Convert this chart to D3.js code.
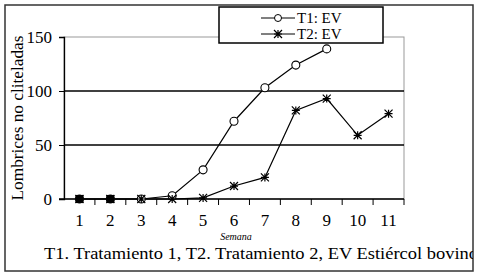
<!DOCTYPE html>
<html>
<head>
<meta charset="utf-8">
<script src="https://cdn.jsdelivr.net/npm/d3@7"></script>
<style>
  body { margin: 0; background: #fff; }
  text { font-family: "Liberation Serif", "DejaVu Serif", serif; fill: #000; }
</style>
</head>
<body>
<div id="chart"></div>
<script>
// chart data
var semanas = ["1", "2", "3", "4", "5", "6", "7", "8", "9", "10", "11"]
var t1 = [0, 0, 0, 3, 27, 72, 103, 124, 139]
var t2 = [0, 0, 0, 0, 1, 12, 20, 82, 93, 59, 79]
var yTicks = [0, 50, 100, 150]
var seriesNames = ["T1: EV", "T2: EV"]

var width = 483,
    height = 277
var margin = {top: 37, right: 79, bottom: 78, left: 64}

var svg = d3.select("#chart")
  .append("svg")
    .attr("width", width)
    .attr("height", height)

svg.append("clipPath").attr("id", "frameClip")
  .append("rect").attr("x", 5).attr("y", 5).attr("width", 468).attr("height", 266)

// outer frame
svg.append("rect")
  .attr("x", 5).attr("y", 5)
  .attr("width", 468).attr("height", 266)
  .attr("fill", "#fff")
  .attr("stroke", "#333")
  .attr("stroke-width", 1.5)

var x = d3.scaleBand()
  .domain(semanas)
  .range([margin.left, width - margin.right])

var y = d3.scaleLinear()
  .domain([0, 150])
  .range([height - margin.bottom, margin.top])

// plot area border (grey)
svg.append("rect")
  .attr("x", margin.left).attr("y", margin.top)
  .attr("width", x.range()[1] - margin.left)
  .attr("height", y(0) - margin.top)
  .attr("fill", "none")
  .attr("stroke", "#999")
  .attr("stroke-width", 1)

// gridlines
svg.selectAll("grid")
  .data(yTicks.filter(function(d) { return d > 0 && d < 150 }))
  .enter()
  .append("line")
    .attr("x1", margin.left).attr("x2", x.range()[1])
    .attr("y1", function(d) { return y(d) }).attr("y2", function(d) { return y(d) })
    .attr("stroke", "#000")
    .attr("stroke-width", 1.3)

// y axis
var yAxis = svg.append("g")
  .attr("transform", "translate(" + margin.left + ",0)")
  .call(d3.axisLeft(y).tickValues(yTicks).tickSize(5).tickPadding(7))
yAxis.select(".domain").attr("stroke", "#000").attr("stroke-width", 1.3)
yAxis.selectAll("text").style("font-size", "17px").style("font-family", "Liberation Serif")

// x axis with ticks between categories
var xAxis = svg.append("g")
  .attr("transform", "translate(0," + y(0) + ")")
xAxis.append("line")
  .attr("x1", margin.left - 5).attr("x2", x.range()[1])
  .attr("stroke", "#000").attr("stroke-width", 1.3)
xAxis.selectAll("tick")
  .data(semanas)
  .enter()
  .append("line")
    .attr("x1", function(d) { return x(d) + x.bandwidth() })
    .attr("x2", function(d) { return x(d) + x.bandwidth() })
    .attr("y1", 0).attr("y2", 6)
    .attr("stroke", "#000")
xAxis.selectAll("lbl")
  .data(semanas)
  .enter()
  .append("text")
    .attr("x", function(d) { return x(d) + x.bandwidth() / 2 })
    .attr("y", 27)
    .attr("text-anchor", "middle")
    .style("font-size", "17px")
    .text(function(d) { return d })

// lines
var line = d3.line()
  .x(function(d, i) { return x(semanas[i]) + x.bandwidth() / 2 })
  .y(function(d) { return y(d) })

svg.append("path")
  .datum(t1)
  .attr("d", line)
  .attr("fill", "none")
  .attr("stroke", "#000")
  .attr("stroke-width", 1.2)

svg.append("path")
  .datum(t2)
  .attr("d", line)
  .attr("fill", "none")
  .attr("stroke", "#000")
  .attr("stroke-width", 1.2)

// star marker
function star(g, cx, cy) {
  var s = 4
  g.append("path")
    .attr("d", "M" + (cx - s) + "," + cy + "H" + (cx + s) +
      "M" + (cx - s) + "," + (cy - s) + "L" + (cx + s) + "," + (cy + s) +
      "M" + (cx - s) + "," + (cy + s) + "L" + (cx + s) + "," + (cy - s) +
      "M" + cx + "," + (cy - s) + "V" + (cy + s))
    .attr("stroke", "#000")
    .attr("stroke-width", 1.2)
}

svg.selectAll("t1pts")
  .data(t1)
  .enter()
  .append("circle")
    .attr("cx", function(d, i) { return x(semanas[i]) + x.bandwidth() / 2 })
    .attr("cy", function(d) { return y(d) })
    .attr("r", 4)
    .attr("fill", "#fff")
    .attr("stroke", "#000")
    .attr("stroke-width", 1.1)

// filled squares on the first two weeks
svg.selectAll("sq")
  .data(t2.slice(0, 2))
  .enter()
  .append("rect")
    .attr("x", function(d, i) { return x(semanas[i]) + x.bandwidth() / 2 - 4 })
    .attr("y", function(d) { return y(d) - 4 })
    .attr("width", 8).attr("height", 8)
    .attr("fill", "#000")

var starG = svg.append("g")
t2.forEach(function(d, i) {
  star(starG, x(semanas[i]) + x.bandwidth() / 2, y(d))
})

// legend
var legend = svg.append("g")
legend.append("rect")
  .attr("x", 219).attr("y", 7)
  .attr("width", 164).attr("height", 36)
  .attr("fill", "#fff")
  .attr("stroke", "#000")
  .attr("stroke-width", 1.5)

seriesNames.forEach(function(name, i) {
  var ly = 18 + i * 16
  legend.append("line")
    .attr("x1", 261).attr("x2", 295)
    .attr("y1", ly).attr("y2", ly)
    .attr("stroke", "#000")
  if (i === 0) {
    legend.append("circle")
      .attr("cx", 278).attr("cy", ly).attr("r", 3.5)
      .attr("fill", "#fff").attr("stroke", "#000")
  } else {
    star(legend, 278, ly)
  }
  legend.append("text")
    .attr("x", 297).attr("y", ly + 5)
    .style("font-size", "15px")
    .text(name)
})

// axis titles
svg.append("text")
  .attr("transform", "translate(23," + (y(0) + margin.top) / 2 + ") rotate(-90)")
  .attr("text-anchor", "middle")
  .attr("textLength", 165)
  .attr("lengthAdjust", "spacingAndGlyphs")
  .style("font-size", "17px")
  .text("Lombrices no cliteladas")

svg.append("text")
  .attr("x", 236).attr("y", 240)
  .attr("text-anchor", "middle")
  .style("font-size", "10px")
  .style("font-style", "italic")
  .text("Semana")

// footnote
svg.append("g")
  .attr("clip-path", "url(#frameClip)")
  .append("text")
    .attr("x", 44).attr("y", 259)
    .attr("textLength", 434)
    .attr("lengthAdjust", "spacingAndGlyphs")
    .style("font-size", "17px")
    .text("T1. Tratamiento 1, T2. Tratamiento 2, EV Estiércol bovino")
</script>
</body>
</html>
